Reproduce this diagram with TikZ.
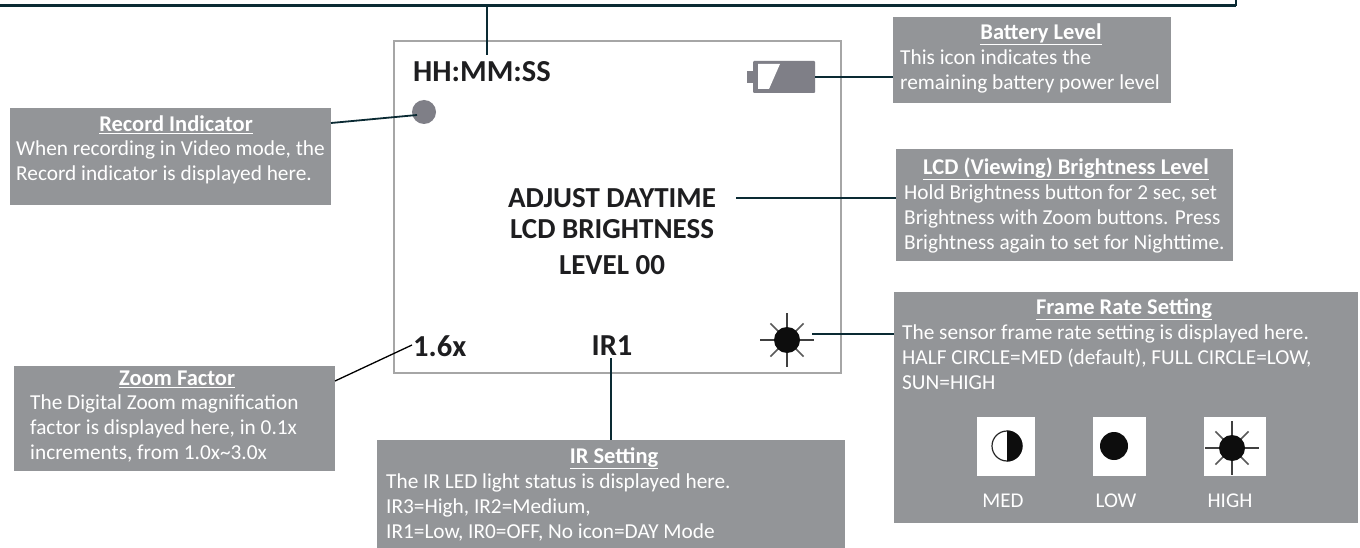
\documentclass[tikz,border=0pt]{standalone}
\usepackage{fontspec}
\setmainfont{Carlito}
\definecolor{boxgrey}{HTML}{939598}
\definecolor{leader}{HTML}{0A2A33}
\definecolor{screenedge}{HTML}{A6A6A6}
\definecolor{icongrey}{HTML}{7F7F87}
\definecolor{screentext}{HTML}{1E1E20}
\newcommand{\sunicon}[3]{%
  \foreach \a in {0,90,180,270}{\draw[black!75,line width=1.5pt] (#1,#2) -- ++(\a:{#3*2.05});}
  \foreach \a in {45,135,225,315}{\draw[black!65,line width=1.5pt] (#1,#2) -- ++(\a:{#3*1.8});}
  \fill[black!95] (#1,#2) circle (#3);
}
\tikzset{
  x=1pt,y=-1pt,
  greybox/.style={fill=boxgrey,draw=none,inner sep=0pt,anchor=north west},
  conn/.style={draw=leader,line width=1.8pt},
  boxtitle/.style={text=white,font=\fontsize{22.5}{25}\selectfont\bfseries,anchor=center,inner sep=0pt},
  boxbody/.style={text=white,font=\fontsize{21.3}{25}\selectfont,anchor=north west,align=left,inner sep=0pt},
  screenlabel/.style={text=screentext,font=\fontsize{29}{32}\selectfont\bfseries,inner sep=0pt},
  iconlabel/.style={text=white,font=\fontsize{21}{25}\selectfont,inner sep=0pt},
  iconbox/.style={fill=white,draw=none,inner sep=0pt,anchor=north west},
}
\begin{document}
\begin{tikzpicture}
\useasboundingbox (0,0) rectangle (1360,548);
\clip (0,0) rectangle (1360,548);
% top frame
\coordinate (frameL) at (-5,6);
\coordinate (frameR) at (1236,6);
\coordinate (frameT) at (1236,-5);
\coordinate (frameDrop) at (487,6);
\coordinate (clockTip) at (487,55);
\draw[conn,line width=3pt] (frameL) -- (frameR);
\draw[conn,line width=2pt] (frameR) -- (frameT);
% screen
\node[draw=screenedge,line width=1.8pt,fill=white,inner sep=0pt,anchor=north west,minimum width=447pt,minimum height=332pt] (screen) at (393,40) {};
% screen contents
\node[screenlabel,anchor=west,font=\fontsize{30.5}{32}\selectfont\bfseries] (clock) at (413,72) {HH:MM:SS};
\node[circle,fill=icongrey,inner sep=0pt,minimum size=24pt] (rec) at (424,112) {};
\node[fill=icongrey,inner sep=0pt,minimum width=62pt,minimum height=32pt,anchor=west,rounded corners=1pt] (batt) at (753,77) {};
\fill[icongrey] (747,71) rectangle (754,83);
\fill[white] (758,64) -- (780,64) -- (769,89) -- (758,89) -- cycle;
\node[screenlabel,anchor=center] (msg1) at (612,198) {ADJUST DAYTIME};
\node[screenlabel,anchor=center] (msg2) at (612,229) {LCD BRIGHTNESS};
\node[screenlabel,anchor=center] (msg3) at (612,265) {LEVEL 00};
\node[screenlabel,anchor=west,font=\fontsize{30.5}{32}\selectfont\bfseries] (zoomval) at (413,346) {1.6x};
\node[screenlabel,anchor=center,font=\fontsize{30.5}{32}\selectfont\bfseries] (irval) at (612,346) {IR1};
\sunicon{787}{340}{13}
\node[inner sep=0pt,minimum size=50pt] (sun) at (787,340) {};
% grey boxes
\node[greybox,minimum width=321pt,minimum height=97pt] (recbox) at (10,108) {};
\node[boxtitle] (rectitle) at (176,125) {\underline{Record Indicator}};
\node[boxbody] (recbody) at (16,141) {When recording in Video mode, the\\Record indicator is displayed here.};
\node[greybox,minimum width=278pt,minimum height=86pt] (battbox) at (893,17) {};
\node[boxtitle] (batttitle) at (1041,34) {\underline{Battery Level}};
\node[boxbody] (battbody) at (900,50) {This icon indicates the\\remaining battery power level};
\node[greybox,minimum width=337pt,minimum height=112pt] (lcdbox) at (896,149) {};
\node[boxtitle] (lcdtitle) at (1066,169) {\underline{LCD (Viewing) Brightness Level}};
\node[boxbody] (lcdbody) at (904,185) {Hold Brightness button for 2 sec, set\\Brightness with Zoom buttons. Press\\Brightness again to set for Nighttime.};
\node[greybox,minimum width=464pt,minimum height=231pt] (framebox) at (894,292) {};
\node[boxtitle] (frametitle) at (1124,309) {\underline{Frame Rate Setting}};
\node[boxbody] (framebody) at (902,325) {The sensor frame rate setting is displayed here.\\HALF CIRCLE=MED (default), FULL CIRCLE=LOW,\\SUN=HIGH};
\node[greybox,minimum width=321pt,minimum height=105pt] (zoombox) at (14,366) {};
\node[boxtitle] (zoomtitle) at (177,379) {\underline{Zoom Factor}};
\node[boxbody] (zoombody) at (30,395) {The Digital Zoom magnification\\factor is displayed here, in 0.1x\\increments, from 1.0x\textasciitilde3.0x};
\node[greybox,minimum width=468pt,minimum height=108pt] (irbox) at (377,440) {};
\node[boxtitle] (irtitle) at (614,458) {\underline{IR Setting}};
\node[boxbody] (irbody) at (386,474) {The IR LED light status is displayed here.\\IR3=High, IR2=Medium,\\IR1=Low, IR0=OFF, No icon=DAY Mode};
% frame rate icons
\node[iconbox,minimum width=58pt,minimum height=59pt] (medicon) at (977,417) {};
\node[iconbox,minimum width=53pt,minimum height=59pt] (lowicon) at (1093,417) {};
\node[iconbox,minimum width=62pt,minimum height=59pt] (highicon) at (1204,417) {};
\draw[black!85,line width=1.2pt,fill=white] (1007,446) circle (15);
\begin{scope}
\clip (1007,425) rectangle (1030,467);
\fill[black!95] (1007,446) circle (15.5);
\end{scope}
\fill[black!95] (1114,446) circle (14);
\sunicon{1232}{448}{13}
\node[iconlabel] (medlabel) at (1003,501) {MED};
\node[iconlabel] (lowlabel) at (1116,501) {LOW};
\node[iconlabel] (highlabel) at (1230,501) {HIGH};
% connectors
\coordinate (recStart) at (331,123);
\coordinate (recEnd) at (417,115);
\coordinate (zoomStart) at (335,381);
\coordinate (zoomEnd) at (412,345);
\coordinate (irTop) at (611,358);
\coordinate (irBottom) at (611,440);
\coordinate (msgEnd) at (736,198);
\coordinate (sunEnd) at (812,334);
\draw[conn] (frameDrop) -- (clockTip);
\draw[conn] (recStart) -- (recEnd);
\draw[conn] (batt.east) -- (battbox.west |- batt.east);
\draw[conn] (msgEnd) -- (lcdbox.west |- msgEnd);
\draw[conn] (sunEnd) -- (framebox.west |- sunEnd);
\draw[conn,line width=1.3pt,draw=black] (zoomStart) -- (zoomEnd);
\draw[conn] (irTop) -- (irBottom);
\end{tikzpicture}
\end{document}
